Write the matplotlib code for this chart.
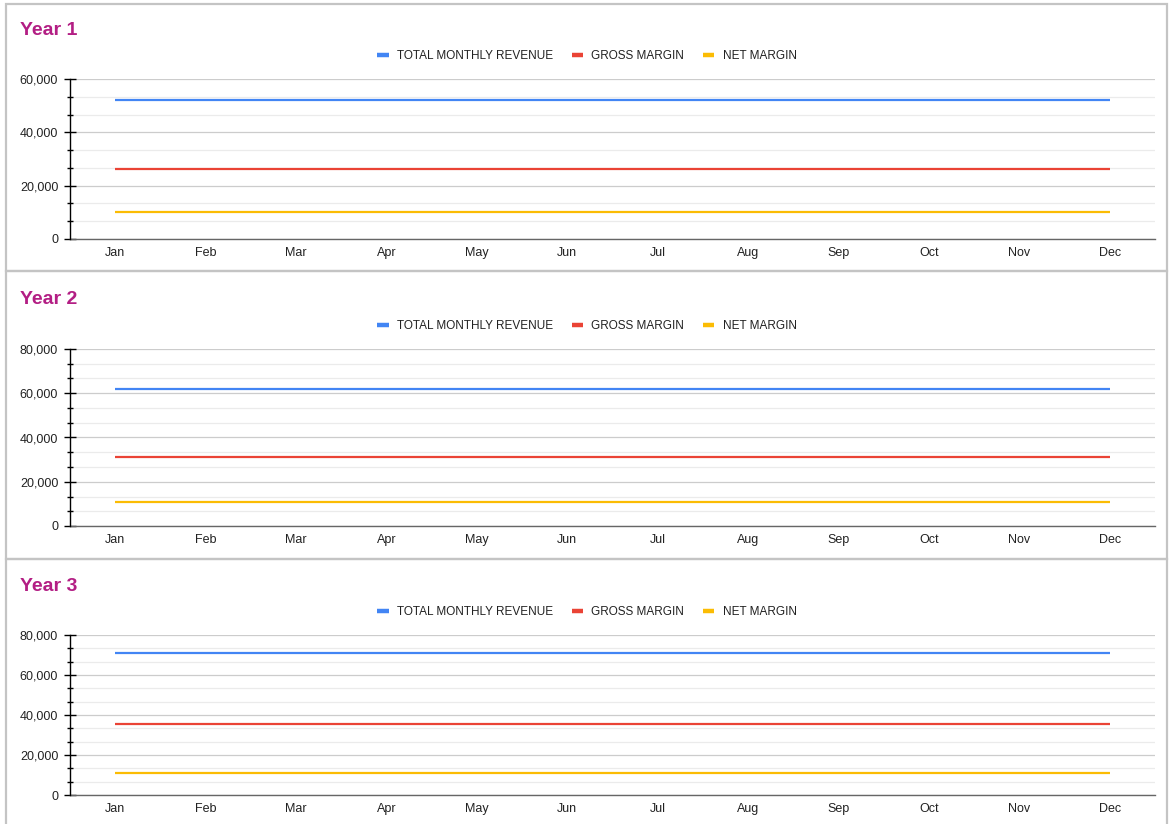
import matplotlib.pyplot as plt
from matplotlib.lines import Line2D
from matplotlib.patches import Rectangle
from matplotlib.ticker import MultipleLocator, FuncFormatter

plt.rcParams["font.family"] = ["Liberation Sans", "DejaVu Sans"]

months = ["Jan", "Feb", "Mar", "Apr", "May", "Jun",
          "Jul", "Aug", "Sep", "Oct", "Nov", "Dec"]
years = ["Year 1", "Year 2", "Year 3"]
series_names = ["TOTAL MONTHLY REVENUE", "GROSS MARGIN", "NET MARGIN"]
series_colors = ["#4285F4", "#EA4335", "#FBBC04"]

revenue = [
    [52200] * 12,
    [62000] * 12,
    [71000] * 12,
]
gross_margin = [
    [26200] * 12,
    [31000] * 12,
    [35500] * 12,
]
net_margin = [
    [10200] * 12,
    [11000] * 12,
    [10900] * 12,
]
y_max = [60000, 80000, 80000]

W, H = 1170, 824
fig = plt.figure(figsize=(W / 100, H / 100), dpi=100)

# pixel layout of each panel: (border top, border bottom, axes top, axes bottom,
# title y, legend y)
panels = [
    (4, 271, 79, 239, 30.5, 56),
    (271, 559, 349, 526, 299.5, 326),
    (559, 826, 635, 795, 586.5, 612),
]
ax_left, ax_right = 70, 1155


def fx(px):
    return px / W


def fy(py):
    return 1 - py / H


for i, (b_top, b_bot, a_top, a_bot, t_y, l_y) in enumerate(panels):
    fig.patches.append(Rectangle((fx(6), fy(b_bot)), fx(1167) - fx(6), fy(b_top) - fy(b_bot),
                                 transform=fig.transFigure, fill=False,
                                 edgecolor="#c4c4c4", linewidth=1.6, zorder=0))

    ax = fig.add_axes([fx(ax_left), fy(a_bot), fx(ax_right) - fx(ax_left), fy(a_top) - fy(a_bot)])
    x = list(range(len(months)))
    for vals, color in zip([revenue[i], gross_margin[i], net_margin[i]], series_colors):
        ax.plot(x, vals, color=color, linewidth=1.6, solid_capstyle="butt", zorder=3)

    ax.set_xlim(-0.5, 11.5)
    ax.set_ylim(0, y_max[i])
    ax.set_xticks(x)
    ax.set_xticklabels(months)
    ax.yaxis.set_major_locator(MultipleLocator(20000))
    ax.yaxis.set_minor_locator(MultipleLocator(20000 / 3))
    ax.yaxis.set_major_formatter(FuncFormatter(lambda v, p: f"{int(v):,}"))

    ax.grid(True, which="major", axis="y", color="#cccccc", linewidth=0.9)
    ax.grid(True, which="minor", axis="y", color="#ebebeb", linewidth=0.9)
    ax.set_axisbelow(True)

    for side in ["top", "right"]:
        ax.spines[side].set_visible(False)
    ax.spines["left"].set_color("#000000")
    ax.spines["left"].set_linewidth(1.0)
    ax.spines["bottom"].set_color("#666666")
    ax.spines["bottom"].set_linewidth(1.0)
    ax.spines["left"].set_zorder(4)

    ax.tick_params(axis="x", length=0, pad=6, labelsize=9, labelcolor="#222222")
    ax.tick_params(axis="y", which="major", direction="inout", length=9, width=1.0,
                   color="#000000", pad=4, labelsize=9, labelcolor="#222222")
    ax.tick_params(axis="y", which="minor", direction="inout", length=5, width=1.0,
                   color="#000000")

    fig.text(fx(20), fy(t_y), years[i], fontsize=14, fontweight="bold",
             color="#B31E84", ha="left", va="center")

    handles = [Line2D([0], [0], color=c, linewidth=3.2, solid_capstyle="butt")
               for c in series_colors]
    fig.legend(handles, series_names, loc="center", bbox_to_anchor=(fx(587), fy(l_y)),
               ncol=3, frameon=False, fontsize=8.5, handlelength=0.95,
               handletextpad=0.7, columnspacing=1.6, labelcolor="#222222")

fig.savefig("out.png", dpi=100, facecolor="white")
